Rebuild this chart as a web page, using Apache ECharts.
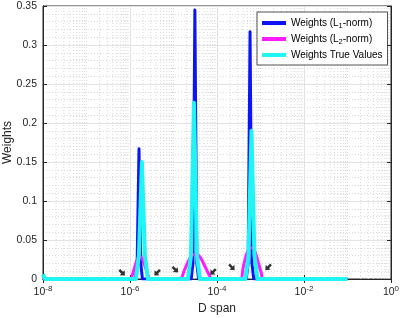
<!DOCTYPE html>
<html>
<head>
<meta charset="utf-8">
<script src="https://cdn.jsdelivr.net/npm/echarts@6/dist/echarts.min.js"></script>
<style>
  html, body { margin: 0; padding: 0; background: #fff; }
  #chart { width: 400px; height: 318px; }
</style>
</head>
<body>
<div id="chart"></div>
<script>
// L1-norm weights (blue)
var l1X = [1e-8, 1.33e-6, 1.46e-6, 1.61e-6, 1.77e-6, 1.93e-6,
           2.55e-5, 2.8e-5, 3.1e-5, 3.43e-5, 3.78e-5,
           4.7e-4, 5.2e-4, 5.75e-4, 6.35e-4, 7.0e-4, 1e-1];
var l1Y = [0, 0, 0.02, 0.167, 0.02, 0,
           0, 0.02, 0.345, 0.02, 0,
           0, 0.02, 0.317, 0.02, 0, 0];

// L2-norm weights (magenta)
var l2X = [1e-8, 1.0e-6, 1.2e-6, 1.4e-6, 1.6e-6, 1.8e-6, 2.1e-6, 2.5e-6, 2.9e-6,
           1.4e-5, 1.8e-5, 2.3e-5, 2.8e-5, 3.4e-5, 4.2e-5, 5.3e-5, 6.5e-5, 7.7e-5,
           3.4e-4, 4.0e-4, 4.8e-4, 5.6e-4, 6.5e-4, 7.6e-4, 9.0e-4, 1.05e-3, 1.15e-3, 1e-1];
var l2Y = [0, 0, 0.01, 0.022, 0.028, 0.028, 0.02, 0.008, 0,
           0, 0.012, 0.025, 0.031, 0.032, 0.027, 0.016, 0.006, 0,
           0, 0.015, 0.032, 0.039, 0.04, 0.034, 0.02, 0.007, 0, 0];

// true weights (cyan)
var trueX = [1e-8, 1.12e-8, 1.37e-6, 1.6e-6, 1.88e-6, 2.2e-6, 2.58e-6,
             2.15e-5, 2.52e-5, 2.95e-5, 3.46e-5, 4.05e-5,
             4.5e-4, 5.3e-4, 6.2e-4, 7.25e-4, 8.5e-4, 1e-1];
var trueY = [0.006, 0, 0, 0.03, 0.15, 0.03, 0,
             0, 0.03, 0.226, 0.03, 0,
             0, 0.03, 0.19, 0.03, 0, 0];

// black arrows
var arrowX = [6.6e-7, 4.2e-6, 1.1e-5, 8.1e-5, 2.2e-4, 1.5e-3];
var arrowY = [0.008, 0.008, 0.012, 0.009, 0.015, 0.015];
var arrowRot = [-135, 135, -135, 135, -135, 135];

var seriesNames = ["Weights (L1-norm)", "Weights (L2-norm)", "Weights True Values"];

function pairs(xs, ys) {
  return xs.map(function(x, i) { return [x, ys[i]]; });
}

// minor vertical grid (2..9 per decade, plus odd decades)
var minorX = [];
for (var d = -8; d < 0; d++) {
  for (var m = 1; m <= 9; m++) {
    if (m === 1 && d % 2 === 0) continue;
    minorX.push(m * Math.pow(10, d));
  }
}

var txt = "#262626";
var font = "Liberation Sans";

var myChart = echarts.init(document.getElementById("chart"));
var option = {
  animation: false,
  textStyle: { fontFamily: font, color: txt },
  grid: {
    left: 43, right: 9, top: 6, bottom: 39,
    containLabel: false,
    outerBoundsMode: "none",
    show: true, borderColor: txt, borderWidth: 1, backgroundColor: "#fff"
  },
  legend: {
    orient: "vertical",
    left: 257, top: 12,
    data: seriesNames,
    icon: "rect",
    itemWidth: 24, itemHeight: 4, itemGap: 4,
    padding: [6, 5, 5, 5],
    backgroundColor: "#fff",
    borderColor: "#262626",
    borderWidth: 0.8,
    borderRadius: 0,
    textStyle: {
      fontFamily: font, fontSize: 10, color: "#000",
      rich: {
        a: { fontSize: 10, fontFamily: font, color: "#000" },
        s: { fontSize: 7.5, fontFamily: font, color: "#000", padding: [6, 0, 0, 0] }
      }
    },
    formatter: function(name) {
      var m = name.match(/^Weights \(L(\d)-norm\)$/);
      if (m) return "{a|Weights (L}{s|" + m[1] + "}{a|-norm)}";
      return "{a|" + name + "}";
    }
  },
  xAxis: [{
    type: "log",
    logBase: 10,
    min: 1e-8,
    max: 1,
    interval: 2,
    name: "D span",
    nameLocation: "middle",
    nameGap: 24,
    nameMoveOverlap: false,
    nameTextStyle: { fontSize: 12, color: txt, fontFamily: font },
    axisLine: { show: true, lineStyle: { color: txt } },
    axisTick: { show: true, inside: true, length: 4, lineStyle: { color: txt } },
    axisLabel: {
      margin: 6,
      color: txt,
      showMinLabel: true,
      showMaxLabel: true,
      formatter: function(v) {
        var e = Math.round(Math.log10(v));
        return "{b|10}{e|" + e + "}";
      },
      rich: {
        b: { fontSize: 10.5, fontFamily: font, color: txt },
        e: { fontSize: 8, fontFamily: font, color: txt, padding: [0, 0, 7, 0] }
      }
    },
    splitLine: { show: true, lineStyle: { color: "#e3e3e3", width: 1 } }
  }, {
    type: "log",
    logBase: 10,
    min: 1e-8,
    max: 1,
    interval: 2,
    position: "top",
    axisLine: { show: true, lineStyle: { color: txt } },
    axisTick: { show: true, inside: true, length: 4, lineStyle: { color: txt } },
    axisLabel: { show: false },
    splitLine: { show: false }
  }],
  yAxis: [{
    type: "value",
    min: 0,
    max: 0.35,
    interval: 0.05,
    name: "Weights",
    nameLocation: "middle",
    nameGap: 29,
    nameMoveOverlap: false,
    nameTextStyle: { fontSize: 12, color: txt, fontFamily: font },
    axisLine: { show: true, lineStyle: { color: txt } },
    axisTick: { show: true, inside: true, length: 4, lineStyle: { color: txt } },
    axisLabel: { fontSize: 10.5, color: txt, margin: 6, fontFamily: font },
    splitLine: { show: true, lineStyle: { color: "#e3e3e3", width: 1 } },
    minorTick: { show: false, splitNumber: 5 },
    minorSplitLine: { show: true, lineStyle: { color: "#d9d9d9", type: [1, 2], width: 1 } }
  }, {
    type: "value",
    min: 0,
    max: 0.35,
    interval: 0.05,
    position: "right",
    axisLine: { show: true, lineStyle: { color: txt } },
    axisTick: { show: true, inside: true, length: 4, lineStyle: { color: txt } },
    axisLabel: { show: false },
    splitLine: { show: false }
  }],
  series: [
    {
      name: "minor",
      type: "custom",
      silent: true,
      z: 0,
      data: minorX,
      encode: { x: 0 },
      renderItem: function(params, api) {
        var x = api.value(0);
        var p0 = api.coord([x, 0]);
        var p1 = api.coord([x, 0.35]);
        return {
          type: "line",
          shape: { x1: p0[0], y1: p0[1], x2: p1[0], y2: p1[1] },
          style: { stroke: "#d9d9d9", lineWidth: 1, lineDash: [1, 2] }
        };
      }
    },
    {
      name: seriesNames[0],
      type: "line",
      data: pairs(l1X, l1Y),
      showSymbol: false,
      color: "#0a14f5",
      lineStyle: { width: 3, join: "round" }
    },
    {
      name: seriesNames[1],
      type: "line",
      data: pairs(l2X, l2Y),
      showSymbol: false,
      smooth: 0.3,
      color: "#ff1aff",
      lineStyle: { width: 3, join: "round" }
    },
    {
      name: seriesNames[2],
      type: "line",
      data: pairs(trueX, trueY),
      showSymbol: false,
      color: "#1ff5f5",
      lineStyle: { width: 4, join: "round" }
    },
    {
      name: "arrows",
      type: "scatter",
      data: arrowX.map(function(x, i) {
        return { value: [x, arrowY[i]], symbolRotate: arrowRot[i] };
      }),
      symbol: "path://M5,0 L10,6 L6.8,6 L6.8,12 L3.2,12 L3.2,6 L0,6 Z",
      symbolSize: [7, 8],
      itemStyle: { color: "#000" },
      z: 5
    }
  ]
};
myChart.setOption(option);
window.addEventListener("resize", function() {
  myChart.resize();
});
</script>
</body>
</html>
